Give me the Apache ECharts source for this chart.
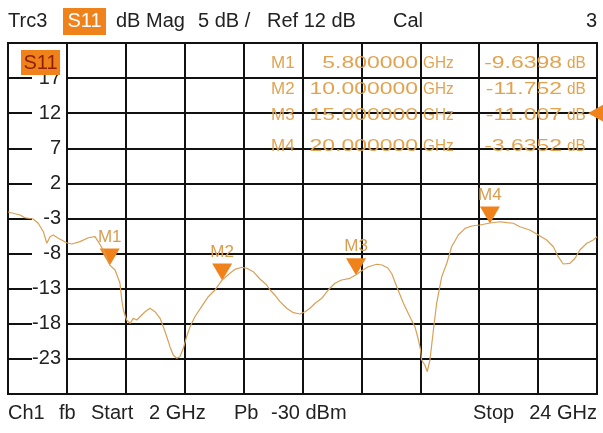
<!DOCTYPE html>
<html>
<head>
<meta charset="utf-8">
<script src="https://cdn.jsdelivr.net/npm/echarts@6/dist/echarts.min.js"></script>
<style>
html,body{margin:0;padding:0;background:#fff;}
#c{width:603px;height:433px;}
</style>
</head>
<body>
<div id="c"></div>
<script>
// ---- data ----
const freqGHz = [2.00,2.45,2.63,2.94,3.13,3.32,3.45,3.57,3.69,3.88,4.19,4.38,4.69,5.00,5.25,5.37,5.56,5.80,6.00,6.18,6.25,6.31,6.43,6.56,6.68,6.81,6.93,7.12,7.30,7.49,7.68,7.80,7.93,8.05,8.17,8.30,8.42,8.55,8.67,8.80,8.98,9.23,9.48,9.73,10.00,10.29,10.48,10.73,10.92,11.16,11.41,11.66,11.79,11.97,12.16,12.41,12.66,12.91,13.09,13.28,13.47,13.72,13.96,14.21,14.46,14.77,15.00,15.21,15.46,15.77,15.97,16.19,16.34,16.52,16.77,17.01,17.20,17.33,17.41,17.45,17.57,17.66,17.76,17.89,18.01,18.20,18.39,18.57,18.82,19.07,19.32,19.63,20.00,20.38,20.63,20.87,21.12,21.49,21.81,22.12,22.37,22.55,22.74,22.99,23.18,23.36,23.62,23.86,24.00];
const s11dB = [-2.07,-2.50,-2.89,-3.07,-3.68,-4.88,-6.53,-5.59,-5.35,-5.82,-6.45,-6.63,-6.30,-5.74,-5.59,-6.30,-7.49,-9.64,-10.34,-12.19,-14.61,-16.03,-17.46,-17.93,-17.22,-17.46,-16.99,-16.28,-15.79,-16.28,-17.22,-18.41,-19.84,-21.26,-22.44,-22.91,-22.69,-21.49,-19.84,-18.41,-16.99,-15.56,-14.14,-13.19,-11.75,-10.81,-10.24,-9.95,-10.09,-10.58,-11.62,-12.47,-13.19,-13.90,-14.85,-15.79,-16.42,-16.60,-16.28,-15.79,-15.08,-14.37,-13.19,-12.23,-11.76,-11.52,-11.01,-10.44,-9.87,-9.52,-9.62,-10.05,-10.91,-12.72,-15.08,-16.99,-18.41,-20.31,-21.73,-23.16,-23.87,-24.82,-23.16,-18.88,-15.08,-11.29,-9.38,-7.02,-5.35,-4.40,-4.07,-3.93,-3.64,-3.46,-3.60,-3.68,-4.17,-4.64,-5.35,-6.06,-7.02,-8.44,-9.48,-9.38,-8.67,-7.49,-6.53,-6.06,-5.59];
const markerNames = ['M1','M2','M3','M4'];
const markerFreqs = [5.8, 10, 15, 20];
const markerVals = [-9.6398, -11.752, -11.007, -3.6352];
const refLevel = 12;
const yTickValues = [-23,-18,-13,-8,-3,2,7,12,17];
const xRange = [2, 24];
const yRange = [-28, 22];
const titleWords = ['Trc3','S11','dB Mag','5 dB /','Ref 12 dB','Cal','3'];
const footerWords = ['Ch1','fb','Start','2 GHz','Pb','-30 dBm','Stop','24 GHz'];

// ---- styles ----
const FONT = '"Liberation Sans", Arial, sans-serif';
const ORANGE = '#f0821c';
const TRACE = '#d9a055';
const MTEXT = '#e2a350';
const G = {left: 8, top: 43, width: 589, height: 351};

const chart = echarts.init(document.getElementById('c'), null, {renderer: 'canvas'});

function txt(t, x, y, opt, extra) {
  return Object.assign({
    type: 'text', x: x, y: y, z: 50,
    style: Object.assign({text: t, fill: '#222', font: '20px ' + FONT, align: 'left', verticalAlign: 'middle'}, opt || {})
  }, extra || {});
}

const graphics = [];
// title
const tY = 21;
graphics.push(txt(titleWords[0], 8, tY));
graphics.push({type: 'rect', z: 49, shape: {x: 63, y: 8, width: 43, height: 27}, style: {fill: ORANGE}});
graphics.push(txt(titleWords[1], 84.5, tY, {fill: '#fff', align: 'center'}));
graphics.push(txt(titleWords[2], 116, tY));
graphics.push(txt(titleWords[3], 198, tY));
graphics.push(txt(titleWords[4], 267, tY));
graphics.push(txt(titleWords[5], 393, tY));
graphics.push(txt(titleWords[6], 597, tY, {align: 'right'}));
// footer
const fY = 413;
const fX = [8, 59, 91, 149, 234, 271, 473, 597];
footerWords.forEach((w, i) => graphics.push(txt(w, fX[i], fY, i === footerWords.length - 1 ? {align: 'right'} : {})));
// S11 tag in plot
graphics.push({type: 'rect', z: 60, shape: {x: 21, y: 50, width: 39, height: 25}, style: {fill: ORANGE}});
graphics.push(txt('S11', 40.5, 63, {fill: '#8e1e08', align: 'center'}, {z: 61}));
// marker table
const rowY = [63, 89, 115, 146];
const TF = '17px ' + FONT;
markerNames.forEach((n, i) => {
  graphics.push(txt(n, 271, rowY[i], {fill: MTEXT, font: TF}));
  graphics.push(txt(markerFreqs[i].toFixed(6), 418, rowY[i], {fill: MTEXT, font: TF, align: 'right'}, {scaleX: 1.35}));
  graphics.push(txt('GHz', 423, rowY[i], {fill: MTEXT, font: TF}, {scaleX: 0.9}));
  graphics.push(txt(markerVals[i].toPrecision(5), 562, rowY[i], {fill: MTEXT, font: TF, align: 'right'}, {scaleX: 1.35}));
  graphics.push(txt('dB', 567, rowY[i], {fill: MTEXT, font: TF}, {scaleX: 0.9}));
});

const option = {
  animation: false,
  backgroundColor: '#fff',
  grid: Object.assign({show: true, borderColor: '#111', borderWidth: 2, backgroundColor: '#fff', containLabel: false}, G),
  xAxis: [
    {type: 'value', min: xRange[0], max: xRange[1], show: false},
    {type: 'value', min: 0, max: 10, interval: 1, position: 'bottom',
     axisLine: {show: false}, axisTick: {show: false}, axisLabel: {show: false},
     splitLine: {show: true, lineStyle: {color: '#111', width: 2}}}
  ],
  yAxis: [
    {type: 'value', min: yRange[0], max: yRange[1], position: 'left', z: 3,
     axisLine: {show: false}, axisTick: {show: false}, splitLine: {show: false},
     axisLabel: {show: true, customValues: yTickValues, margin: -58, color: '#222',
       fontSize: 20, fontFamily: FONT, backgroundColor: '#fff', width: 26, align: 'right',
       padding: [2, 5, 2, 3], showMinLabel: true, showMaxLabel: true}},
    {type: 'value', min: 0, max: 10, interval: 1, position: 'left',
     axisLine: {show: false}, axisTick: {show: false}, axisLabel: {show: false},
     splitLine: {show: true, lineStyle: {color: '#111', width: 2}}}
  ],
  graphic: graphics,
  series: [{
    type: 'line', xAxisIndex: 0, yAxisIndex: 0, z: 5,
    data: freqGHz.map((f, i) => [f, s11dB[i]]),
    showSymbol: false, smooth: false,
    lineStyle: {color: TRACE, width: 1.2},
    markPoint: {
      symbol: 'triangle', symbolSize: [20, 17], symbolRotate: 180, symbolOffset: [0, -8],
      itemStyle: {color: ORANGE},
      label: {show: true, position: 'top', formatter: '{b}', color: '#d99d52', fontSize: 17, fontFamily: FONT, distance: 3},
      data: markerNames.map((n, i) => ({name: n, coord: [markerFreqs[i], markerVals[i]]})).concat([
        {name: 'Ref', coord: [xRange[1], refLevel], symbolRotate: 90, symbolSize: [20, 18], symbolOffset: [0, 0], label: {show: false}}
      ])
    }
  }]
};
chart.setOption(option);
</script>
</body>
</html>
